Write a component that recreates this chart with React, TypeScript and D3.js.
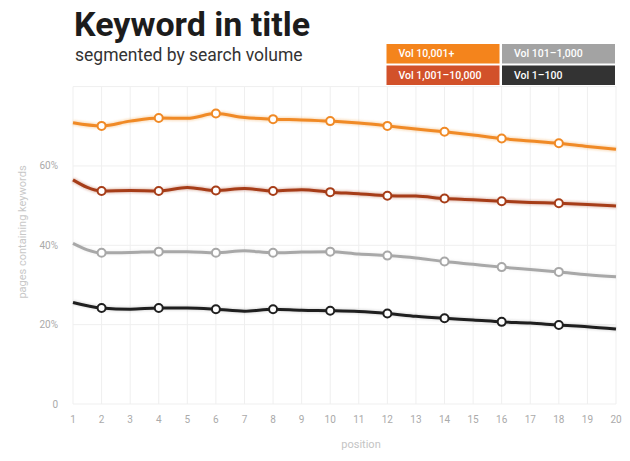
import * as d3 from "d3";

const positions = d3.range(1, 21);

const vol10001 = [70.9, 70.1, 71.3, 72.1, 72.0, 73.2, 72.2, 71.8, 71.6, 71.3, 70.8, 70.1, 69.3, 68.6, 67.8, 66.9, 66.3, 65.7, 64.9, 64.2];
const vol1001 = [56.5, 53.7, 53.8, 53.7, 54.6, 53.8, 54.3, 53.7, 54.0, 53.4, 53.0, 52.5, 52.4, 51.8, 51.5, 51.1, 50.8, 50.6, 50.3, 49.9];
const vol101 = [40.5, 38.1, 38.2, 38.4, 38.4, 38.1, 38.6, 38.1, 38.3, 38.4, 37.8, 37.4, 36.8, 35.9, 35.2, 34.5, 33.9, 33.3, 32.6, 32.1];
const vol1 = [25.6, 24.2, 23.9, 24.2, 24.2, 23.9, 23.4, 23.9, 23.6, 23.5, 23.3, 22.8, 22.1, 21.6, 21.2, 20.7, 20.4, 19.9, 19.5, 18.9];

const seriesNames = ["Vol 10,001+", "Vol 1,001–10,000", "Vol 101–1,000", "Vol 1–100"];
const yTicks = [0, 20, 40, 60, 80];

const series = [
  { name: seriesNames[0], values: vol10001, line: "#f08a26", box: "#f4841c", glow: 0.3 },
  { name: seriesNames[1], values: vol1001, line: "#a63d18", box: "#d2512a", glow: 0.3 },
  { name: seriesNames[2], values: vol101, line: "#a8a8a8", box: "#a3a3a3", glow: 0.12 },
  { name: seriesNames[3], values: vol1, line: "#1f1f1f", box: "#333333", glow: 0.12 },
];

const W = 630;
const H = 461;
const FONT = "Roboto, 'Noto Sans', sans-serif";

export default function App() {
  const x = d3.scaleLinear().domain([1, 20]).range([73, 616]);
  const y = d3.scaleLinear().domain([0, 80]).range([404, 86.6]);

  const line = d3
    .line<number>()
    .x((_, i) => x(positions[i]))
    .y((d) => y(d))
    .curve(d3.curveMonotoneX);

  // legend: orange pair in the left column, grey pair in the right
  const legendX = [386.5, 502];
  const legendY = [44, 65.5];
  const boxW = 113;
  const boxH = 19.5;

  return (
    <svg
      width={W}
      height={H}
      style={{ position: "absolute", left: 0, top: 0, background: "#fff" }}
      fontFamily={FONT}
    >
      <defs>
        <filter id="glow" x="-5%" y="-50%" width="110%" height="200%">
          <feGaussianBlur stdDeviation="1.2" />
        </filter>
      </defs>

      <text x={74} y={36} fontSize={34} fontWeight={700} fill="#1c1c1c">
        Keyword in title
      </text>
      <text x={75} y={61} fontSize={17.5} fill="#333">
        segmented by search volume
      </text>

      {series.map((s, i) => (
        <g key={s.name} transform={`translate(${legendX[i < 2 ? 0 : 1]},${legendY[i % 2]})`}>
          <rect width={boxW} height={boxH} fill={s.box} />
          <text
            x={12}
            y={boxH / 2}
            dominantBaseline="central"
            fontSize={10.5}
            fontWeight={500}
            fill="#fff"
          >
            {s.name}
          </text>
        </g>
      ))}

      {/* grid */}
      <g stroke="#efefef" strokeWidth={1}>
        {positions.map((p) => (
          <line key={p} x1={x(p)} x2={x(p)} y1={y(80)} y2={y(0)} />
        ))}
        {yTicks.map((t) => (
          <line key={t} x1={x(1)} x2={x(20)} y1={y(t)} y2={y(t)} />
        ))}
      </g>

      {yTicks
        .filter((t) => t < 80)
        .map((t) => (
          <text
            key={t}
            x={58}
            y={y(t)}
            textAnchor="end"
            dominantBaseline="central"
            fontSize={10}
            fill="#aaa"
          >
            {t === 0 ? "0" : `${t}%`}
          </text>
        ))}

      {positions.map((p) => (
        <text
          key={p}
          x={x(p)}
          y={419}
          textAnchor="middle"
          dominantBaseline="central"
          fontSize={10}
          fill="#aaa"
        >
          {p}
        </text>
      ))}

      <text x={361} y={444} textAnchor="middle" dominantBaseline="central" fontSize={11} fill="#c4c4c4">
        position
      </text>
      <text
        transform={`translate(22,232) rotate(-90)`}
        textAnchor="middle"
        dominantBaseline="central"
        fontSize={11}
        fill="#c8c8c8"
      >
        pages containing keywords
      </text>

      {series.map((s) => (
        <g key={s.name}>
          <path
            d={line(s.values) ?? ""}
            fill="none"
            stroke={s.line}
            strokeOpacity={s.glow}
            strokeWidth={5}
            filter="url(#glow)"
          />
          <path d={line(s.values) ?? ""} fill="none" stroke={s.line} strokeWidth={3} />
          {positions
            .filter((p) => p % 2 === 0 && p < 20)
            .map((p) => (
              <circle
                key={p}
                cx={x(p)}
                cy={y(s.values[p - 1])}
                r={4}
                fill="#fff"
                stroke={s.line}
                strokeWidth={2}
              />
            ))}
        </g>
      ))}
    </svg>
  );
}
